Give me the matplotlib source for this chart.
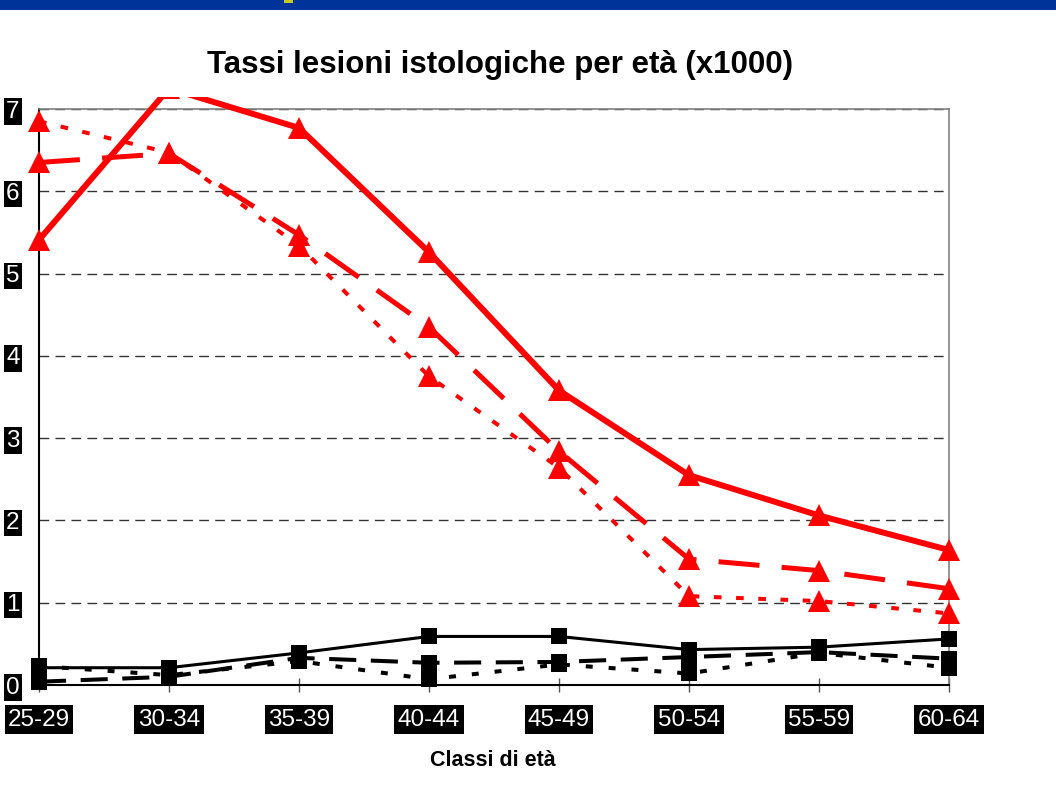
import matplotlib
matplotlib.use("Agg")
import matplotlib.pyplot as plt
from matplotlib.patches import Rectangle

plt.rcParams['font.family'] = ['Liberation Sans', 'DejaVu Sans']
plt.rcParams['lines.scale_dashes'] = False

# ---- data ----
categories = ["25-29", "30-34", "35-39", "40-44", "45-49", "50-54", "55-59", "60-64"]
red_solid  = [5.41, 7.25, 6.77, 5.26, 3.58, 2.55, 2.06, 1.64]
red_dashed = [6.35, 6.46, 5.47, 4.35, 2.84, 1.53, 1.39, 1.17]
red_dotted = [6.85, 6.47, 5.34, 3.75, 2.64, 1.08, 1.02, 0.87]
blk_solid  = [0.21, 0.21, 0.39, 0.59, 0.59, 0.43, 0.46, 0.56]
blk_dashed = [0.04, 0.10, 0.33, 0.27, 0.28, 0.34, 0.40, 0.32]
blk_dotted = [0.23, 0.12, 0.29, 0.07, 0.25, 0.14, 0.39, 0.21]
yticks = [0, 1, 2, 3, 4, 5, 6, 7]
title = "Tassi lesioni istologiche per età (x1000)"
xlabel = "Classi di età"

W, H = 1056, 806
fig = plt.figure(figsize=(W / 100, H / 100), dpi=100)
fig.patch.set_facecolor('white')

# top blue banner of the slide
fig.patches.append(Rectangle((0, 1 - 10 / H), 1, 10 / H, transform=fig.transFigure,
                             facecolor='#003399', edgecolor='none', zorder=0))
fig.patches.append(Rectangle((284 / W, 1 - 3 / H), 9 / W, 3 / H, transform=fig.transFigure,
                             facecolor='#c8c820', edgecolor='none', zorder=1))

left, right, bottom, top = 39 / W, 949 / W, (H - 685) / H, (H - 109) / H
ax = fig.add_axes([left, bottom, right - left, top - bottom])
x = list(range(len(categories)))

clip = Rectangle((-0.05, -0.1), 1.1, 1.12, transform=ax.transAxes, facecolor='none')

series = [
    (blk_dashed, 'black', 2.9, (0, (19.5, 10.5)), 's', 11),
    (blk_dotted, 'black', 2.9, (0, (5.0, 11.5)), 's', 11),
    (blk_solid, 'black', 2.2, '-', 's', 11),
    (red_dotted, '#ff0000', 2.9, (0, (5.5, 10.5)), '^', 16),
    (red_dashed, '#ff0000', 3.6, (0, (29.5, 16.0)), '^', 16),
    (red_solid, '#ff0000', 4.3, '-', '^', 16),
]
for vals, col, lw, ls, mk, ms in series:
    ln, = ax.plot(x, vals, color=col, lw=lw, linestyle=ls, marker=mk, markersize=ms,
                  markeredgewidth=0, zorder=3)
    ln.set_clip_path(clip)

ax.set_xlim(0, len(categories) - 1)
ax.set_ylim(0, 7)

# grid
ax.set_yticks(yticks)
ax.yaxis.grid(True, color='#333333', lw=1.0, linestyle=(0, (7, 4.5)))
ax.set_axisbelow(True)

for s in ['top', 'right']:
    ax.spines[s].set_color('#808080')
    ax.spines[s].set_linewidth(1.2)
for s in ['left', 'bottom']:
    ax.spines[s].set_color('black')
    ax.spines[s].set_linewidth(1.5)

ax.set_xticks(x)
ax.set_xticklabels(categories)
ax.tick_params(axis='x', direction='inout', length=10, width=1, color='#555555',
               pad=12, labelsize=17.5, labelcolor='white')
ax.tick_params(axis='y', length=0, pad=14, labelsize=17.5, labelcolor='white')

for lbl in ax.get_xticklabels():
    lbl.set_bbox(dict(facecolor='black', edgecolor='none', pad=2.5))
for lbl in ax.get_yticklabels():
    lbl.set_bbox(dict(facecolor='black', edgecolor='none', pad=1.5))

fig.text(500 / W, 1 - 65 / H, title, ha='center', va='center', fontsize=22.5,
         fontweight='bold', color='black')
fig.text(493 / W, 1 - 760 / H, xlabel, ha='center', va='center', fontsize=15.5,
         fontweight='bold', color='black')

fig.savefig('out.png', dpi=100)
